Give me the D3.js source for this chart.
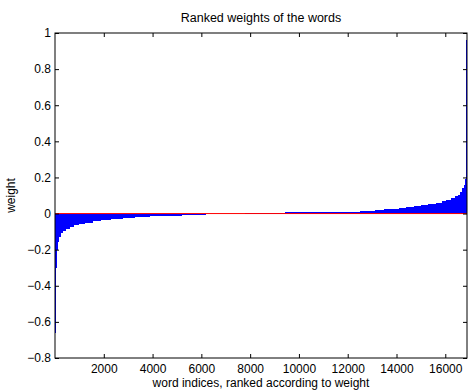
<!DOCTYPE html>
<html>
<head>
<meta charset="utf-8">
<script src="https://cdn.jsdelivr.net/npm/d3@7"></script>
<style>
  body { margin: 0; background: #fff; }
  svg { display: block; }
  text { font-family: "Liberation Sans", Arial, sans-serif; }
</style>
</head>
<body>
<svg id="chart" width="468" height="390"></svg>
<script>
const rankStart = [1, 10, 25, 45, 70, 110, 160, 240, 330, 450, 600, 800, 1000, 1250,
  1550, 1900, 2300, 2800, 3300, 3900, 4500, 5200, 6200, 7800, 9450, 11150, 12500,
  13100, 13500, 13800, 14100, 14400, 14700, 15000, 15300, 15600, 15850, 16050,
  16250, 16400, 16520, 16620, 16700, 16760, 16800, 16830, 16850, 16865, 16875,
  16882, 16886];
const weights = [-0.66, -0.45, -0.30, -0.24, -0.20, -0.16, -0.13, -0.11, -0.095,
  -0.085, -0.075, -0.066, -0.058, -0.050, -0.043, -0.037, -0.031, -0.025, -0.020,
  -0.015, -0.011, -0.008, -0.005, 0.001, 0.006, 0.009, 0.014, 0.018, 0.024, 0.028,
  0.032, 0.037, 0.042, 0.048, 0.054, 0.061, 0.068, 0.076, 0.085, 0.095, 0.105,
  0.12, 0.14, 0.16, 0.19, 0.23, 0.30, 0.40, 0.55, 0.75, 0.96];
const nWords = 16890;

const xTicks = [2000, 4000, 6000, 8000, 10000, 12000, 14000, 16000];
const yTicks = [-0.8, -0.6, -0.4, -0.2, 0, 0.2, 0.4, 0.6, 0.8, 1];

const mLeft = 55, mRight = 467, mTop = 33, mBottom = 358;

const svg = d3.select("#chart");

const x = d3.scaleLinear().domain([0, nWords]).range([mLeft, mRight]);
const y = d3.scaleLinear().domain([-0.8, 1]).range([mBottom, mTop]);

const fmt = d => d === 0 ? "0" : (d < 0 ? "\u2212" : "") + d3.format("~g")(Math.abs(d));

// bars
const bars = rankStart.map((r, i) => ({
  x0: r - 1,
  x1: i + 1 < rankStart.length ? rankStart[i + 1] - 1 : nWords,
  w: weights[i]
}));

svg.append("g")
  .selectAll("rect")
  .data(bars)
  .enter()
  .append("rect")
  .attr("x", d => Math.min(x(d.x0), mRight - 1))
  .attr("width", d => Math.max(1, x(d.x1) - x(d.x0)))
  .attr("y", d => y(Math.max(0, d.w)))
  .attr("height", d => Math.abs(y(d.w) - y(0)))
  .attr("fill", "#0000ff")
  .attr("shape-rendering", "crispEdges");

// zero line
svg.append("line")
  .attr("x1", mLeft).attr("x2", mRight)
  .attr("y1", y(0)).attr("y2", y(0))
  .attr("stroke", "#ff0000")
  .attr("stroke-width", 1);

// axes, ticks pointing inward on all four sides
const styleAxis = g => {
  g.select(".domain").remove();
  g.selectAll("line").attr("stroke", "#000");
  g.selectAll("text").attr("fill", "#000").style("font-size", "12px");
};

svg.append("g")
  .attr("transform", `translate(0,${mBottom})`)
  .call(d3.axisBottom(x).tickValues(xTicks).tickSizeInner(-4).tickSizeOuter(0).tickPadding(6).tickFormat(d3.format("d")))
  .call(styleAxis);

svg.append("g")
  .attr("transform", `translate(0,${mTop})`)
  .call(d3.axisTop(x).tickValues(xTicks).tickSizeInner(-4).tickSizeOuter(0).tickFormat(""))
  .call(styleAxis);

svg.append("g")
  .attr("transform", `translate(${mLeft},0)`)
  .call(d3.axisLeft(y).tickValues(yTicks).tickSizeInner(-4).tickSizeOuter(0).tickPadding(4).tickFormat(fmt))
  .call(styleAxis);

svg.append("g")
  .attr("transform", `translate(${mRight},0)`)
  .call(d3.axisRight(y).tickValues(yTicks).tickSizeInner(-4).tickSizeOuter(0).tickFormat(""))
  .call(styleAxis);

// box
svg.append("rect")
  .attr("x", mLeft).attr("y", mTop)
  .attr("width", mRight - mLeft).attr("height", mBottom - mTop)
  .attr("fill", "none")
  .attr("stroke", "#000")
  .attr("stroke-width", 1);

// labels
svg.append("text")
  .attr("x", (mLeft + mRight) / 2).attr("y", 22)
  .attr("text-anchor", "middle")
  .style("font-size", "12.5px")
  .text("Ranked weights of the words");

svg.append("text")
  .attr("x", (mLeft + mRight) / 2).attr("y", 387)
  .attr("text-anchor", "middle")
  .style("font-size", "12px")
  .text("word indices, ranked according to weight");

svg.append("text")
  .attr("transform", `translate(15,${(mTop + mBottom) / 2}) rotate(-90)`)
  .attr("text-anchor", "middle")
  .style("font-size", "12px")
  .text("weight");
</script>
</body>
</html>
